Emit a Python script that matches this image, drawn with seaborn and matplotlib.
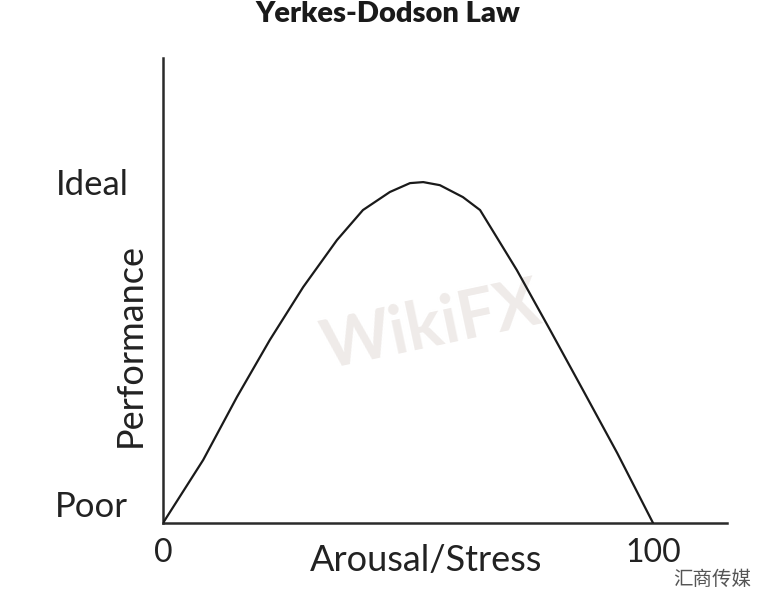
import numpy as np
import pandas as pd
import matplotlib
matplotlib.use("Agg")
import matplotlib.pyplot as plt
import seaborn as sns

# curve (arousal 0-100, performance 0=poor, 100=ideal)
arousal = [0, 8.2, 15.1, 21.8, 28.6, 35.5, 40.8, 46.3, 50.4, 53.1, 56.5, 61.2,
           64.7, 68.2, 72.2, 79.0, 85.7, 92.7, 100]
performance = [0, 18.5, 37.0, 53.7, 69.2, 83.0, 91.8, 97.1, 99.7, 100, 99.1, 95.6,
               91.8, 83.6, 74.2, 56.6, 39.0, 20.5, 0]
x_ticks = [0, 100]
x_tick_labels = ["0", "100"]
y_ticks = [0, 100]
y_tick_labels = ["Poor", "Ideal"]

df = pd.DataFrame({"Arousal/Stress": arousal, "Performance": performance})

sns.set_theme(style="white")
plt.rcParams['font.family'] = ['Lato', 'Noto Sans CJK SC', 'DejaVu Sans']

fig = plt.figure(figsize=(7.7, 5.98), dpi=100)
ax = fig.add_axes([0.2117, 0.1254, 0.7325, 0.7776])

#watermark
ax.text(0.475, 0.42, "WikiFX", transform=ax.transAxes, fontsize=48, fontweight="bold",
        color="#efebe9", rotation=12, ha="center", va="center", zorder=0)

sns.lineplot(data=df, x="Arousal/Stress", y="Performance", color="#1a1a1a",
             linewidth=1.6, sort=False, ax=ax, zorder=3)
ax.lines[0].set_solid_joinstyle("round")

ax.set_xlim(0, 115.1)
ax.set_ylim(0, 136.4)
sns.despine(ax=ax)
for side in ["left", "bottom"]:
    ax.spines[side].set_linewidth(1.8)
    ax.spines[side].set_color("#2a2a2a")

ax.set_xticks(x_ticks)
ax.set_xticklabels(x_tick_labels, fontsize=23, color="#222222")
ax.set_yticks(y_ticks)
ax.set_yticklabels(y_tick_labels, fontsize=25, color="#222222")
ax.tick_params(axis="x", length=0, pad=11)
ax.tick_params(axis="y", length=0, pad=25)
ax.get_yticklabels()[0].set_va("bottom")

ax.set_xlabel("Arousal/Stress", fontsize=26, color="#222222")
ax.xaxis.label.set_va("center")
ax.xaxis.set_label_coords(0.466, -0.08)
ax.set_ylabel("Performance", fontsize=26, color="#222222")
ax.yaxis.label.set_va("center")
ax.yaxis.set_label_coords(-0.058, 0.383)

fig.text(0.504, 0.976, "Yerkes-Dodson Law", ha="center", va="center",
         fontsize=21, fontweight="heavy", color="#1a1a1a")

fig.text(0.925, 0.033, "汇商传媒", ha="center", va="center", fontsize=14,
         color="#555555")

fig.savefig("out.png", dpi=100)
